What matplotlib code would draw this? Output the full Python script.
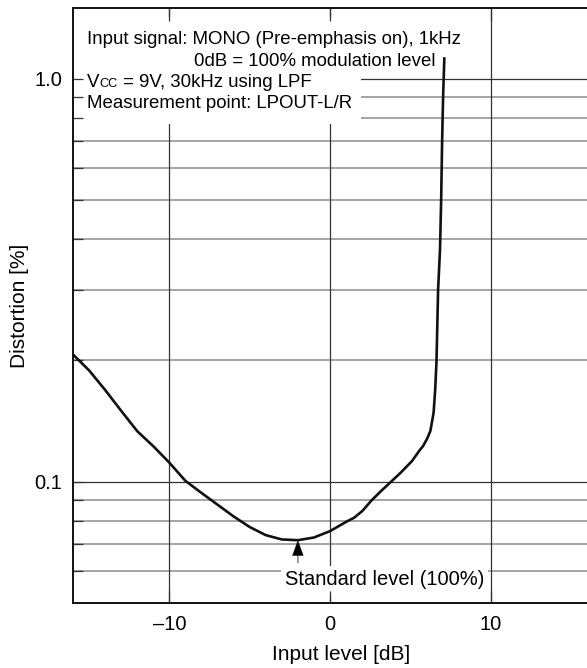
import matplotlib
matplotlib.use("Agg")
import matplotlib.pyplot as plt
from matplotlib.patches import Rectangle

plt.rcParams['font.family'] = ['Liberation Sans', 'DejaVu Sans']

# ---- data ----
input_level_db = [-16.0, -15.0, -14.0, -13.0, -12.0, -11.0, -10.0, -9.0, -8.0, -7.0,
                  -6.0, -5.0, -4.0, -3.0, -2.0, -1.0, 0.0, 1.0, 1.5, 2.0, 2.6,
                  3.2, 3.8, 4.4, 5.1, 5.6, 5.8, 6.05, 6.25, 6.45, 6.55, 6.63,
                  6.73, 6.85, 6.92, 6.98, 7.04, 7.12]
distortion_pct = [0.207, 0.189, 0.169, 0.150, 0.1335, 0.1225, 0.1115, 0.1005, 0.0938, 0.0877,
                  0.0820, 0.0772, 0.0737, 0.0719, 0.0716, 0.0727, 0.0754, 0.0795, 0.0814, 0.0845, 0.090,
                  0.0950, 0.100, 0.1053, 0.1125, 0.1200, 0.1227, 0.1280, 0.1337, 0.1484, 0.1696, 0.1987,
                  0.300, 0.378, 0.500, 0.700, 0.900, 1.132]
x_ticks = [-10, 0, 10]
x_tick_labels = ['\u201310', '0', '10']
y_major = [0.1, 1.0]
y_major_labels = ['0.1', '1.0']
y_minor = [0.06, 0.07, 0.08, 0.09, 0.2, 0.3, 0.4, 0.5, 0.6, 0.7, 0.8, 0.9]
standard_level_db = -2.0
header_lines = ["Input signal: MONO (Pre-emphasis on), 1kHz",
                "0dB = 100% modulation level",
                "Measurement point: LPOUT-L/R"]
vcc_text = ("V", "CC", " = 9V, 30kHz using LPF")

W, H = 587, 668
fig = plt.figure(figsize=(W / 100, H / 100), dpi=100)
ax_l, ax_r, ax_t, ax_b = 73, 587, 8, 603
ax = fig.add_axes([ax_l / W, 1 - ax_b / H, (ax_r - ax_l) / W, (ax_b - ax_t) / H])

ax.set_yscale('log')
ax.set_xlim(-16, 16)
ax.set_ylim(0.05, 1.5)

# grid lines
for v in y_minor:
    ax.axhline(v, color='#8c8c8c', lw=1.1, zorder=0.5)
for v in y_major:
    ax.axhline(v, color='#333333', lw=0.9, zorder=0.6)
for v in x_ticks:
    ax.axvline(v, color='#333333', lw=0.9, zorder=0.6)

# white masks behind the annotation texts
ax.add_patch(Rectangle((-16, 0.773), 17.93, 1.426 - 0.773, facecolor='white',
                       edgecolor='none', zorder=1))
ax.add_patch(Rectangle((-3.04, 0.0519), 12.9, 0.0619 - 0.0519, facecolor='white',
                       edgecolor='none', zorder=1))

# curve
ax.plot(input_level_db, distortion_pct, color='#111111', lw=1.9, zorder=3,
        solid_capstyle='butt', solid_joinstyle='round')

# ticks
ax.set_xticks(x_ticks)
ax.set_xticklabels(x_tick_labels)
ax.set_yticks(y_major)
ax.set_yticklabels(y_major_labels)
ax.set_yticks(y_minor, minor=True)
ax.yaxis.set_minor_formatter(matplotlib.ticker.NullFormatter())
ax.tick_params(axis='x', which='both', direction='in', length=9, width=0.9,
               top=True, bottom=True, labelsize=14.5, pad=9, color='#333333')
ax.tick_params(axis='y', which='both', direction='in', length=7, width=0.9,
               left=True, right=False, labelsize=14.5, pad=8, color='#333333')
ax.tick_params(axis='x', which='minor', bottom=False, top=False)

for s in ['left', 'bottom', 'top']:
    ax.spines[s].set_linewidth(1.4)
    ax.spines[s].set_color('#111111')
ax.spines['right'].set_visible(False)

ax.set_xlabel('Input level [dB]', fontsize=15)
ax.xaxis.set_label_coords((341 - ax_l) / (ax_r - ax_l), -(655 - ax_b) / (ax_b - ax_t))
ax.xaxis.label.set_va('center')
ax.set_ylabel('Distortion [%]', fontsize=15)
ax.yaxis.set_label_coords((19.5 - ax_l) / (ax_r - ax_l), 0.5)
ax.yaxis.label.set_va('center')


def axf(px, py):
    return ((px - ax_l) / (ax_r - ax_l), (ax_b - py) / (ax_b - ax_t))


hfs = 13.4
ax.text(*axf(87.3, 44), header_lines[0], transform=ax.transAxes, fontsize=hfs,
        va='baseline', ha='left', zorder=4)
ax.text(*axf(194.3, 66), header_lines[1], transform=ax.transAxes, fontsize=hfs,
        va='baseline', ha='left', zorder=4)
tV = ax.text(*axf(87, 87.3), vcc_text[0], transform=ax.transAxes, fontsize=hfs,
             va='baseline', ha='left', zorder=4)
tCC = ax.annotate(vcc_text[1], xy=(1, 0), xycoords=tV, xytext=(0.3, 0.6),
                  textcoords='offset points', fontsize=9.2, va='bottom', ha='left', zorder=4)
ax.annotate(vcc_text[2], xy=(1, 0), xycoords=(tCC, tV), fontsize=hfs,
            va='bottom', ha='left', zorder=4)
ax.text(*axf(87, 108.3), header_lines[2], transform=ax.transAxes, fontsize=hfs,
        va='baseline', ha='left', zorder=4)

# standard level arrow + label
min_dist = min(distortion_pct)
ax.annotate('', xy=(standard_level_db, 0.0675), xytext=(standard_level_db, 0.063),
            arrowprops=dict(arrowstyle='-', color='#8a8a8a', lw=1.2,
                            shrinkA=0, shrinkB=0), zorder=4)
ax.annotate('', xy=(standard_level_db, min_dist), xytext=(standard_level_db, 0.0675),
            arrowprops=dict(arrowstyle='-|>,head_length=0.55,head_width=0.2',
                            color='black', lw=0.1, mutation_scale=20,
                            shrinkA=0, shrinkB=0), zorder=4)
ax.text(*axf(285, 585), 'Standard level (100%)', transform=ax.transAxes,
        fontsize=14.5, va='baseline', ha='left', zorder=4)

fig.savefig('out.png', dpi=100)
